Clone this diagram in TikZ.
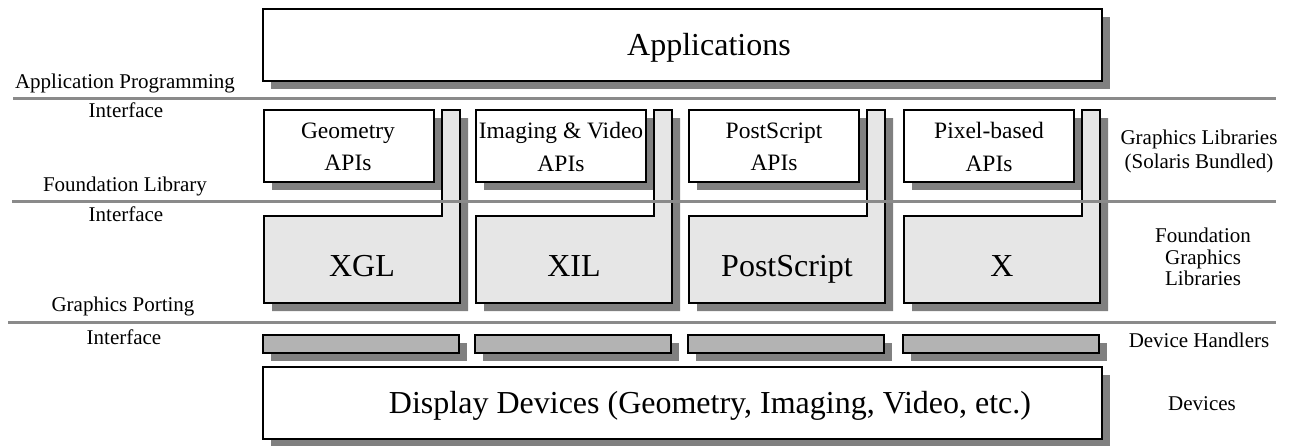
\documentclass[tikz,border=0pt]{standalone}
\usepackage{fontspec}
\setmainfont{Liberation Serif}
\definecolor{shd}{HTML}{808080}
\definecolor{lgray}{HTML}{E6E6E6}
\definecolor{mgray}{HTML}{B3B3B3}
\definecolor{rule}{HTML}{8A8A8A}
\tikzset{
  shadowfill/.style={fill=shd, draw=none},
  whitebox/.style={draw=black, line width=1.4pt, fill=white},
  libbox/.style={draw=black, line width=1.4pt, fill=lgray},
  handlerbox/.style={draw=black, line width=1.4pt, fill=mgray},
  layerrule/.style={draw=rule, line width=3pt},
  bigtext/.style={font=\fontsize{32}{36}\selectfont, inner sep=0pt, anchor=base},
  apitext/.style={font=\fontsize{23.5}{32.5}\selectfont, align=center, inner sep=0pt},
  sidetext/.style={font=\fontsize{21}{22}\selectfont, align=center, inner sep=0pt, anchor=base},
  sidemulti/.style={align=center, inner sep=0pt},
}
\begin{document}
\begin{tikzpicture}[x=1pt,y=-1pt,line join=miter]
\useasboundingbox (0,0) rectangle (1296,445);
% ---------- shadows ----------
\fill[shadowfill] (271,17) rectangle (1110,89);
\foreach \L in {264,476,689,904}{
  \fill[shadowfill] ({\L+8},118) rectangle ({\L+178},190);
  \fill[shadowfill] ({\L+186},118) -- ({\L+204},118) -- ({\L+204},311) -- ({\L+8},311) -- ({\L+8},224) -- ({\L+186},224) -- cycle;
  \fill[shadowfill] ({\L+7},343) rectangle ({\L+203},361);
}
\fill[shadowfill] (271,375) rectangle (1110,447);
% ---------- boxes ----------
\draw[whitebox] (263,9) rectangle (1102,81);
\foreach \L in {264,476,689,904}{
  \draw[whitebox] (\L,110) rectangle ({\L+170},182);
  \draw[libbox] ({\L+178},110) -- ({\L+196},110) -- ({\L+196},303) -- (\L,303) -- (\L,216) -- ({\L+178},216) -- cycle;
  \draw[handlerbox] ({\L-1},335) rectangle ({\L+195},353);
}
\draw[whitebox] (263,367) rectangle (1102,439);
% ---------- layer rules ----------
\coordinate (r1a) at (13,98);  \coordinate (r1b) at (1276,98);
\coordinate (r2a) at (12,201); \coordinate (r2b) at (1276,201);
\coordinate (r3a) at (8,322);  \coordinate (r3b) at (1276,322);
\draw[layerrule] (r1a) -- (r1b);
\draw[layerrule] (r2a) -- (r2b);
\draw[layerrule] (r3a) -- (r3b);
% ---------- texts ----------
\node[bigtext] (apps) at (709,55) {Applications};
\node[apitext] (geoapi) at (348,147) {Geometry\\APIs};
\node[apitext] (imgapi) at (561,147) {Imaging \& Video\\APIs};
\node[apitext] (psapi) at (774,147) {PostScript\\APIs};
\node[apitext] (pixapi) at (989,147) {Pixel-based\\APIs};
\node[bigtext] (xgl) at (362,276) {XGL};
\node[bigtext] (xil) at (574,276) {XIL};
\node[bigtext] (ps) at (787,276) {PostScript};
\node[bigtext] (xx) at (1002,276) {X};
\node[bigtext] (disp) at (710,413) {Display Devices (Geometry, Imaging, Video, etc.)};
\node[sidetext] (api1) at (125,88) {Application Programming};
\node[sidetext] (api2) at (126,117) {Interface};
\node[sidetext] (fli1) at (125,191) {Foundation Library};
\node[sidetext] (fli2) at (126,221) {Interface};
\node[sidetext] (gpi1) at (123,311) {Graphics Porting};
\node[sidetext] (gpi2) at (124,344) {Interface};
\node[sidemulti, font=\fontsize{21}{24}\selectfont] (gl) at (1199,151) {Graphics Libraries\\(Solaris Bundled)};
\node[sidemulti, font=\fontsize{21}{21.5}\selectfont] (fgl) at (1203,257) {Foundation\\Graphics\\Libraries};
\node[sidetext] (dh) at (1199,347) {Device Handlers};
\node[sidetext] (dev) at (1202,410) {Devices};
\end{tikzpicture}
\end{document}
